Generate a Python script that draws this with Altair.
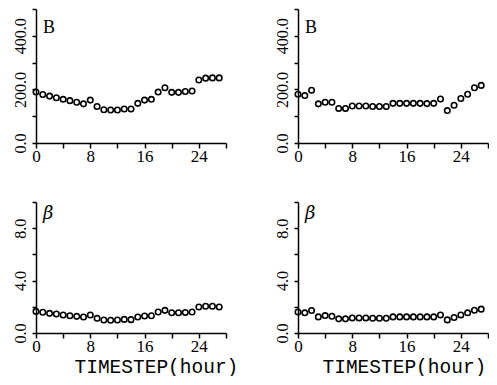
import altair as alt
import pandas as pd

hours = list(range(28))

b_left = [190, 181, 175, 169, 163, 158, 152, 146, 160, 136, 124, 123, 123, 127,
          127, 148, 160, 163, 190, 206, 189, 189, 192, 194, 235, 242, 243, 243]
b_right = [182, 177, 197, 146, 152, 152, 129, 129, 138, 138, 138, 136, 136, 136,
           148, 148, 148, 148, 148, 147, 148, 164, 121, 141, 166, 182, 206, 215]
beta_left = [1.65, 1.58, 1.50, 1.45, 1.37, 1.32, 1.27, 1.22, 1.37, 1.12, 0.99, 0.97,
             0.99, 1.04, 1.02, 1.22, 1.30, 1.32, 1.60, 1.73, 1.55, 1.55, 1.57, 1.60,
             1.98, 2.04, 2.04, 1.98]
beta_right = [1.60, 1.54, 1.72, 1.23, 1.33, 1.28, 1.08, 1.08, 1.15, 1.15, 1.15, 1.13,
              1.13, 1.13, 1.23, 1.23, 1.23, 1.23, 1.23, 1.23, 1.23, 1.38, 1.00, 1.18,
              1.38, 1.54, 1.74, 1.82]

x_ticks = [0, 4, 8, 12, 16, 20, 24, 28]
b_ticks = [0, 100, 200, 300, 400, 500]
beta_ticks = [0, 2, 4, 6, 8, 10]

LABEL_FONT = "Liberation Serif"
TITLE_FONT = "Liberation Mono"


def panel(values, ymax, yticks, ylabel_step, name, sym_font, sym_style, sym_y, bottom, h, title_x=0):
    df = pd.DataFrame({"hour": hours, "v": values})
    xkw = dict(
        values=x_ticks, format="d",
        labelExpr="datum.value % 8 == 0 && datum.value < 28 ? datum.label : ''",
        grid=False, domainColor="black", domainWidth=1.5, tickColor="black",
        tickWidth=1.5, tickSize=5, labelFont=LABEL_FONT, labelFontSize=17,
        labelColor="black", labelPadding=0, labelFlush=False,
        minExtent=24, maxExtent=24,
    )
    if bottom:
        xkw.update(title="TIMESTEP(hour)", titleFont=TITLE_FONT, titleFontSize=19.5,
                   titleFontWeight="normal", titleColor="black", titlePadding=0,
                   titleAlign="left", titleX=title_x)
    else:
        xkw.update(title=None)
    xaxis = alt.Axis(**xkw)
    yaxis = alt.Axis(
        values=yticks, format=".1f",
        labelExpr="datum.value %% %s == 0 ? datum.label : ''" % ylabel_step,
        grid=False, domainColor="black", domainWidth=1.5, tickColor="black",
        tickWidth=1.5, tickSize=4, labelFont=LABEL_FONT, labelFontSize=16,
        labelColor="black", labelAngle=270, labelAlign="center",
        labelBaseline="bottom", labelPadding=4, labelFlush=False, title=None,
        minExtent=28, maxExtent=28,
    )
    pts = alt.Chart(df).mark_point(
        shape="circle", filled=False, size=30, strokeWidth=1.6, color="black", opacity=1
    ).encode(
        x=alt.X("hour:Q", scale=alt.Scale(domain=[0, 28], nice=False, zero=False), axis=xaxis),
        y=alt.Y("v:Q", scale=alt.Scale(domain=[0, ymax], nice=False), axis=yaxis),
    )
    sym = alt.Chart(pd.DataFrame({"t": [name]})).mark_text(
        align="left", baseline="alphabetic", font=sym_font, fontSize=18,
        fontStyle=sym_style, color="black"
    ).encode(x=alt.value(7), y=alt.value(sym_y), text="t:N")
    return alt.layer(pts, sym).properties(width=190, height=h)


tl = panel(b_left, 500, b_ticks, 200, "B", "Liberation Serif", "normal", 24, False, 134)
tr = panel(b_right, 500, b_ticks, 200, "B", "Liberation Serif", "normal", 24, False, 134)
bl = panel(beta_left, 10, beta_ticks, 4, "β", "DejaVu Serif", "italic", 17, True, 131, 38)
br = panel(beta_right, 10, beta_ticks, 4, "β", "DejaVu Serif", "italic", 17, True, 131, 24)

top = alt.hconcat(tl, tr, spacing=72, bounds="flush")
bottom = alt.hconcat(bl, br, spacing=72, bounds="flush")
chart = alt.vconcat(top, bottom, spacing=34).properties(
    padding=0, background="white"
).configure_view(stroke=None)

chart.save("out.html", embed_options={"renderer": "svg", "actions": False})
